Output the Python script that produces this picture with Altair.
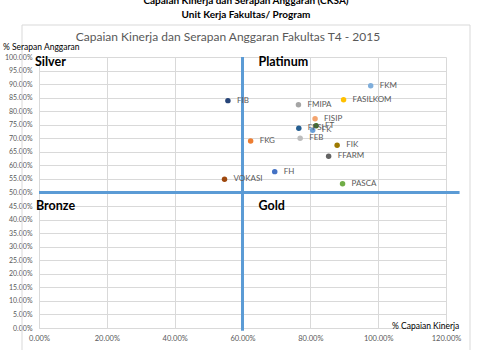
import altair as alt
import pandas as pd

units = ["FKM", "FIB", "FASILKOM", "FMIPA", "FISIP", "FT", "FPSI", "FK", "FEB",
         "FKG", "FIK", "FFARM", "FH", "VOKASI", "PASCA"]
kinerja = [0.978, 0.557, 0.898, 0.765, 0.814, 0.817, 0.766, 0.807, 0.770,
           0.624, 0.879, 0.854, 0.695, 0.547, 0.895]
serapan = [0.894, 0.839, 0.842, 0.824, 0.772, 0.746, 0.737, 0.730, 0.700,
           0.690, 0.674, 0.634, 0.577, 0.549, 0.532]
colors = ["#7FAEDB", "#264478", "#FFC000", "#A5A5A5", "#F4A46E", "#3C6E24", "#255E91",
          "#6A9FD8", "#BDBDBD", "#ED7D31", "#9E7A00", "#636363", "#4472C4", "#9E480E", "#70AD47"]

x_ticks = [0.0, 0.2, 0.4, 0.6, 0.8, 1.0, 1.2]
y_ticks = [round(i * 0.05, 2) for i in range(21)]
quadrants = ["Silver", "Platinum", "Bronze", "Gold"]

df = pd.DataFrame({"unit": units, "kinerja": kinerja, "serapan": serapan, "color": colors})

FONT = "Lato"
W, H = 407, 271

xs = alt.Scale(domain=[0, 1.2], nice=False)
ys = alt.Scale(domain=[0, 1.0], nice=False)

xaxis = alt.Axis(values=x_ticks, format=".2%", title=None, grid=True,
                 gridColor="#D9D9D9", domainColor="#D9D9D9", ticks=False,
                 labelFontSize=7.5, labelColor="#595959", labelPadding=6,
                 labelFlush=False, labelOverlap=False, labelFont=FONT)
yaxis = alt.Axis(values=y_ticks, format=".2%", title=None, grid=True,
                 gridColor="#D9D9D9", domainColor="#D9D9D9", ticks=False,
                 labelFontSize=7, labelColor="#595959", labelPadding=7,
                 labelFlush=False, labelOverlap=False, labelFont=FONT)

def X(f):
    return alt.X(f, type="quantitative", scale=xs, axis=xaxis)

def Y(f):
    return alt.Y(f, type="quantitative", scale=ys, axis=yaxis)

base = alt.Chart(df)

points = base.mark_circle(size=30, opacity=1).encode(
    x=X("kinerja"), y=Y("serapan"),
    color=alt.Color("color:N", scale=None),
)

labels = base.mark_text(align="left", baseline="middle", dx=9, fontSize=8,
                        color="#595959", font=FONT).encode(
    x=X("kinerja"), y=Y("serapan"), text="unit:N")

vline = alt.Chart(pd.DataFrame({"x": [0.6], "y": [-0.01], "y2": [1.0]})).mark_rule(
    color="#5B9BD5", strokeWidth=3).encode(x=X("x"), y=Y("y"), y2="y2:Q")
hline = alt.Chart(pd.DataFrame({"y": [0.5], "x": [0.0], "x2": [1.24]})).mark_rule(
    color="#5B9BD5", strokeWidth=3).encode(y=Y("y"), x=X("x"), x2="x2:Q")

qdf = pd.DataFrame({"q": quadrants, "x": [0.0, 0.6, 0.0, 0.6], "y": [1.0, 1.0, 0.5, 0.5]})

def qlabel(i, dx, dy):
    return alt.Chart(qdf.iloc[[i]]).mark_text(
        align="left", baseline="middle", fontSize=12.5, fontWeight="bold", font=FONT,
        color="#000000", dx=dx, dy=dy).encode(x=X("x"), y=Y("y"), text="q:N")

def txt(s, x, y, size, weight="normal", color="#000000", align="left"):
    return alt.Chart(pd.DataFrame({"t": [s]})).mark_text(
        align=align, baseline="middle", fontSize=size, fontWeight=weight,
        color=color, font=FONT).encode(
        x=alt.value(x), y=alt.value(y), text="t:N")

border = alt.Chart(pd.DataFrame({"a": [0]})).mark_rect(
    fill=None, stroke="#D9D9D9", strokeWidth=1).encode(
    x=alt.value(-17), x2=alt.value(431), y=alt.value(-32), y2=alt.value(300))

annot = (
    txt("Capaian Kinerja dan Serapan Anggaran (CKSA)", 207, -56, 10, "bold", align="center")
    + txt("Unit Kerja Fakultas/ Program", 207, -42, 10, "bold", align="center")
    + txt("Capaian Kinerja dan Serapan Anggaran Fakultas T4 - 2015", 189, -20, 12,
          color="#595959", align="center")
    + txt("% Serapan Anggaran", -36, -10, 8.5)
    + txt("% Capaian Kinerja", 353, -2 + H, 8.5)
)

chart = alt.layer(
    border, hline, vline, points, labels,
    qlabel(0, -4, 5), qlabel(1, 16, 5), qlabel(2, -3, 13), qlabel(3, 16, 13), annot
).properties(
    width=W, height=H,
    autosize=alt.AutoSizeParams(type="none"),
    padding={"left": 39, "top": 57, "right": 31, "bottom": 22},
    background="white",
).configure_view(stroke=None)

chart.save("out.html", embed_options={"renderer": "svg", "actions": False})
